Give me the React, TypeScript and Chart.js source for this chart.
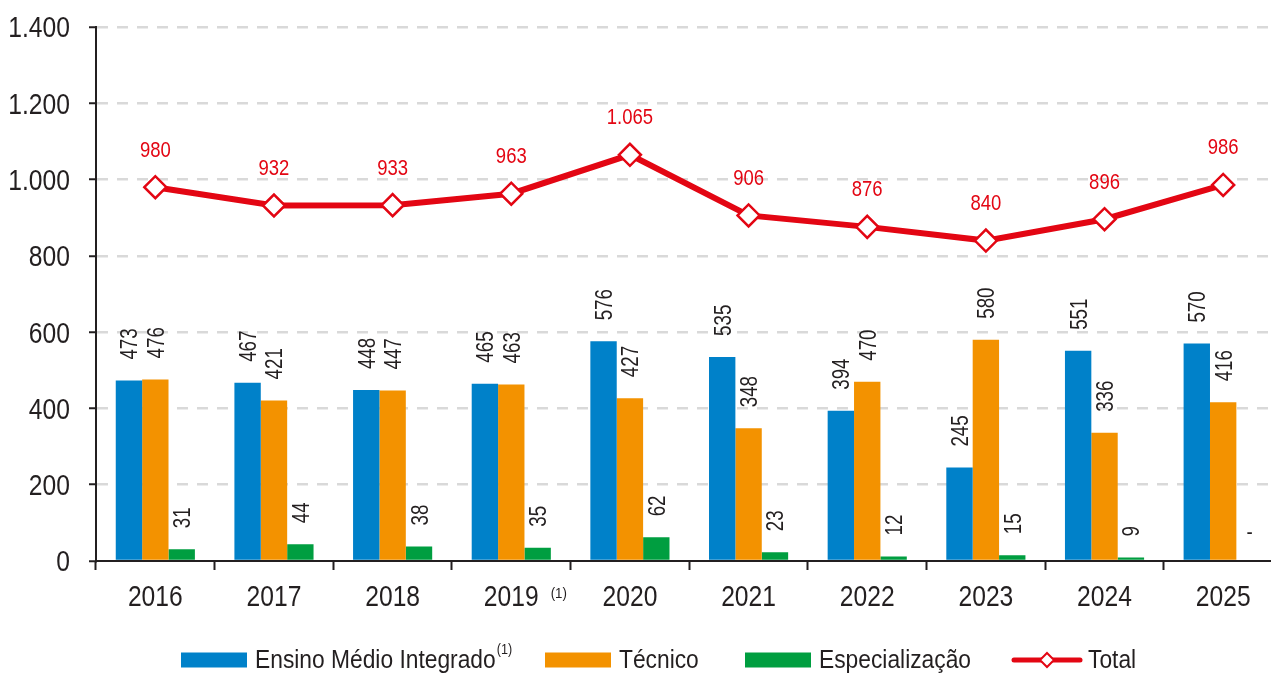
import React, { useEffect, useRef } from "react";
import { Chart, registerables } from "chart.js";

Chart.register(...registerables);

const years = ["2016", "2017", "2018", "2019", "2020", "2021", "2022", "2023", "2024", "2025"];
const ensinoMedio = [473, 467, 448, 465, 576, 535, 394, 245, 551, 570];
const tecnico = [476, 421, 447, 463, 427, 348, 470, 580, 336, 416];
const especializacao = [31, 44, 38, 35, 62, 23, 12, 15, 9, 0];
const total = [980, 932, 933, 963, 1065, 906, 876, 840, 896, 986];
const legendLabels = ["Ensino Médio Integrado", "Técnico", "Especialização", "Total"];
const footnoteMark = "(1)";
const footnotedYear = "2019";
const yMax = 1400;
const yStep = 200;

const BLUE = "#0081C9";
const ORANGE = "#F39200";
const GREEN = "#009E40";
const RED = "#E30613";
const TEXT = "#231F20";
const GRID = "#D9D9D9";
const FONT = '"Liberation Sans", Arial, sans-serif';

const fmt = (v: number) => String(v).replace(/\B(?=(\d{3})+(?!\d))/g, ".");

// condensed text: horizontal squeeze of Liberation Sans
function cText(
  ctx: CanvasRenderingContext2D,
  text: string,
  x: number,
  y: number,
  size: number,
  sx: number,
  align: CanvasTextAlign,
  color: string,
  rot = 0
) {
  ctx.save();
  ctx.translate(x, y);
  if (rot) ctx.rotate(rot);
  ctx.scale(sx, 1);
  ctx.font = `${size}px ${FONT}`;
  ctx.fillStyle = color;
  ctx.textAlign = align;
  ctx.textBaseline = "alphabetic";
  ctx.fillText(text, 0, 0);
  ctx.restore();
}

function cWidth(ctx: CanvasRenderingContext2D, text: string, size: number, sx: number) {
  ctx.save();
  ctx.font = `${size}px ${FONT}`;
  const w = ctx.measureText(text).width * sx;
  ctx.restore();
  return w;
}

const labelPlugin = {
  id: "valueLabels",
  afterDatasetsDraw(chart: any) {
    const ctx = chart.ctx;
    chart.data.datasets.forEach((ds: any, di: number) => {
      const meta = chart.getDatasetMeta(di);
      meta.data.forEach((el: any, i: number) => {
        const v = ds.data[i];
        if (ds.type === "line") {
          cText(ctx, fmt(v), el.x, el.y - 38 + 7.5, 21.5, 0.86, "center", RED);
        } else if (v === 0) {
          cText(ctx, "-", el.x, el.y - 22, 22, 0.85, "center", TEXT);
        } else {
          // rotated -90deg: text runs upward from just above the bar top
          cText(ctx, fmt(v), el.x + 8.5, el.y - 21, 24, 0.78, "left", TEXT, -Math.PI / 2);
        }
      });
    });
  },
};

const textPlugin = {
  id: "axisTextAndLegend",
  afterDraw(chart: any) {
    const ctx = chart.ctx;
    const xs = chart.scales.x;
    const ys = chart.scales.y;

    // y tick labels
    ys.ticks.forEach((t: any) => {
      const py = ys.getPixelForValue(t.value);
      cText(ctx, fmt(t.value), 70, py + 10.4, 29, 0.85, "right", TEXT);
    });

    // x tick labels
    years.forEach((lab, i) => {
      const px = xs.getPixelForTick(i);
      cText(ctx, lab, px, 606, 29, 0.85, "center", TEXT);
      if (lab === footnotedYear) {
        const w = cWidth(ctx, lab, 29, 0.85);
        cText(ctx, footnoteMark, px + w / 2 + 12, 598, 14, 0.95, "left", TEXT);
      }
    });

    // legend
    const cy = 660;
    const starts = [181, 545, 745, 1012];
    const colors = [BLUE, ORANGE, GREEN, RED];
    legendLabels.forEach((lab, i) => {
      const x0 = starts[i];
      ctx.save();
      if (i < 3) {
        ctx.fillStyle = colors[i];
        ctx.fillRect(x0, cy - 7.5, 66, 15);
      } else {
        ctx.strokeStyle = RED;
        ctx.lineWidth = 5;
        ctx.lineCap = "round";
        ctx.beginPath();
        ctx.moveTo(x0 + 2, cy);
        ctx.lineTo(x0 + 68, cy);
        ctx.stroke();
        const mx = x0 + 35;
        ctx.beginPath();
        ctx.moveTo(mx, cy - 7);
        ctx.lineTo(mx + 7, cy);
        ctx.lineTo(mx, cy + 7);
        ctx.lineTo(mx - 7, cy);
        ctx.closePath();
        ctx.fillStyle = "#fff";
        ctx.fill();
        ctx.lineWidth = 2;
        ctx.lineCap = "butt";
        ctx.stroke();
      }
      ctx.restore();
      const tx = x0 + (i < 3 ? 74 : 76);
      cText(ctx, lab, tx, 668, 26.5, 0.86, "left", TEXT);
      if (i === 0) {
        const tw = cWidth(ctx, lab, 26.5, 0.86);
        cText(ctx, footnoteMark, tx + tw + 1, 654, 14, 0.9, "left", TEXT);
      }
    });
  },
};

export default function App() {
  const ref = useRef<HTMLCanvasElement | null>(null);

  useEffect(() => {
    document.body.style.overflow = "hidden";
    const canvas = ref.current!;
    const barCommon = { barPercentage: 1, categoryPercentage: 0.667, order: 1 };
    const chart = new Chart(canvas, {
      type: "bar",
      data: {
        labels: years,
        datasets: [
          {
            type: "line",
            label: legendLabels[3],
            data: total,
            borderColor: RED,
            borderWidth: 6,
            tension: 0,
            pointStyle: "rectRot",
            pointRadius: 11,
            pointBackgroundColor: "#FFFFFF",
            pointBorderColor: RED,
            pointBorderWidth: 2.5,
            order: 0,
          } as any,
          { type: "bar", label: legendLabels[0], data: ensinoMedio, backgroundColor: BLUE, ...barCommon },
          { type: "bar", label: legendLabels[1], data: tecnico, backgroundColor: ORANGE, ...barCommon },
          { type: "bar", label: legendLabels[2], data: especializacao, backgroundColor: GREEN, ...barCommon },
        ],
      },
      options: {
        responsive: false,
        animation: false,
        layout: { padding: { top: 27, right: 4, left: 0, bottom: 0 } },
        plugins: {
          legend: { display: false },
          tooltip: { enabled: false },
        },
        scales: {
          x: {
            offset: true,
            grid: {
              display: true,
              offset: true,
              drawOnChartArea: false,
              drawTicks: true,
              tickLength: 9,
              tickColor: TEXT,
              tickWidth: 2,
            },
            border: { display: true, color: TEXT, width: 2 },
            ticks: { display: false, autoSkip: false },
            afterFit(scale: any) {
              scale.height = 112;
            },
          },
          y: {
            min: 0,
            max: yMax,
            grid: {
              color: (c: any) => (c.tick && c.tick.value === 0 ? "rgba(0,0,0,0)" : GRID),
              lineWidth: 2.5,
              drawTicks: true,
              tickLength: 7,
              tickColor: TEXT,
              tickWidth: 2,
              tickBorderDash: [],
            },
            border: { display: true, color: TEXT, width: 2, dash: [11, 9] },
            ticks: { display: false, stepSize: yStep },
            afterFit(scale: any) {
              scale.width = 96;
            },
          },
        },
      },
      plugins: [labelPlugin, textPlugin],
    });
    return () => chart.destroy();
  }, []);

  return (
    <canvas
      ref={ref}
      width={1296}
      height={673}
      style={{ position: "fixed", left: 0, top: 0, display: "block" }}
    />
  );
}
